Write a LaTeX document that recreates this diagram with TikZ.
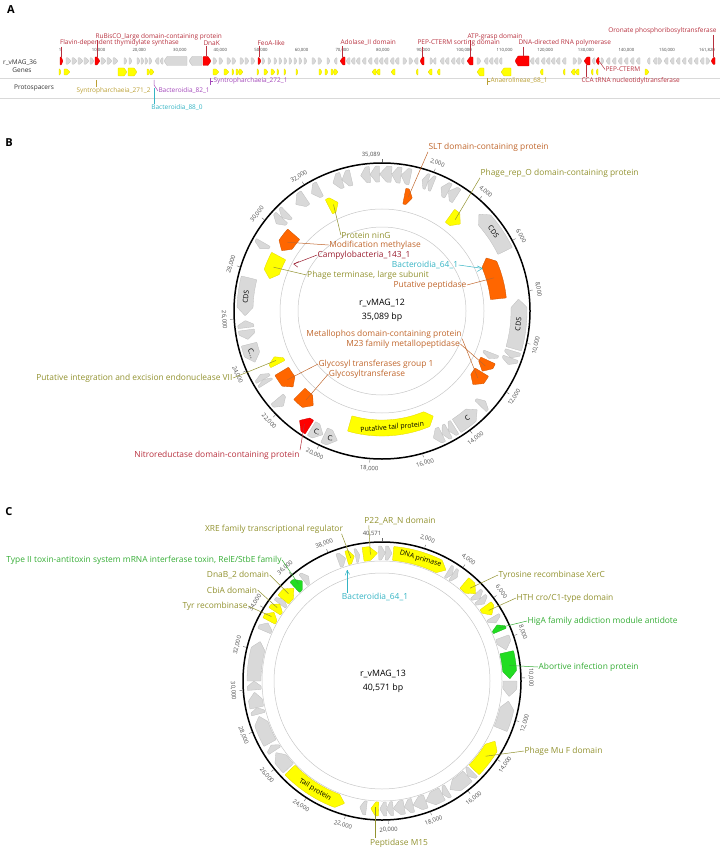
\documentclass[tikz,border=0pt]{standalone}
\usepackage{fontspec}
\setmainfont{Open Sans}
\usetikzlibrary{positioning}

\definecolor{gfill}{HTML}{D9D9D9}
\definecolor{gline}{HTML}{BDBDBD}
\definecolor{yfill}{HTML}{FFFF00}
\definecolor{yline}{HTML}{E3D400}
\definecolor{ofill}{HTML}{FF6600}
\definecolor{rfill}{HTML}{FF0000}
\definecolor{gnfill}{HTML}{22DD22}
\definecolor{cred}{HTML}{B7303E}
\definecolor{cdred}{HTML}{9A1E30}
\definecolor{cbrown}{HTML}{C0662C}
\definecolor{colive}{HTML}{929230}
\definecolor{cgold}{HTML}{BBA035}
\definecolor{cteal}{HTML}{35B4C4}
\definecolor{cgreen}{HTML}{35AD35}
\definecolor{cpurple}{HTML}{A348BA}

\tikzset{
  ggene/.style={fill=gfill, draw=gline, line width=0.3pt, rounded corners=0.5pt},
  ygene/.style={fill=yfill, draw=yline, line width=0.3pt, rounded corners=0.5pt},
  ogene/.style={fill=ofill, draw=ofill!80!black, line width=0.3pt, rounded corners=0.5pt},
  rgene/.style={fill=rfill, draw=rfill!80!black, line width=0.3pt, rounded corners=0.5pt},
  gngene/.style={fill=gnfill, draw=gnfill!80!black, line width=0.3pt, rounded corners=0.5pt},
  panel/.style={font=\fontsize{11}{12}\selectfont\bfseries, inner sep=0},
  lbl/.style={font=\fontsize{8.4}{9}\selectfont, inner sep=0.4pt},
  albl/.style={font=\fontsize{6.5}{7}\selectfont, inner sep=0.3pt},
  scl/.style={font=\fontsize{4.3}{5}\selectfont, text=black!70, inner sep=0},
  tklbl/.style={font=\fontsize{5.9}{6}\selectfont, text=black!70, inner sep=0},
  glbl/.style={font=\fontsize{7}{7}\selectfont, inner sep=0},
  ctr/.style={font=\fontsize{8.8}{9}\selectfont, inner sep=0.3pt},
  lead/.style={line width=0.5pt},
  sepline/.style={draw=black!15, line width=0.5pt},
  ring/.style={draw=black!22, line width=0.5pt},
}

% linear gene: from #1 to #2 (tip), centre line #3, height #4
\newcommand{\lgene}[5]{%
  \pgfmathsetmacro{\lgL}{min(3,0.6*abs((#2)-(#1)))}%
  \pgfmathsetmacro{\lgH}{(#2)-\lgL*sign((#2)-(#1))}%
  \draw[#5] (#1,#3-#4/2) -- (\lgH,#3-#4/2) -- (#2,#3) -- (\lgH,#3+#4/2) -- (#1,#3+#4/2) -- cycle;}

% circular gene: clockwise degrees from the top, from #1 to #2 (tip), radii #3..#4
\newcommand{\cgene}[5]{%
  \pgfmathsetmacro{\cgA}{90-(#1)}%
  \pgfmathsetmacro{\cgB}{90-(#2)}%
  \pgfmathsetmacro{\cgL}{min(3.5,0.6*abs((#2)-(#1)))}%
  \pgfmathsetmacro{\cgH}{\cgB+\cgL*sign(\cgA-\cgB)}%
  \pgfmathsetmacro{\cgM}{((#3)+(#4))/2}%
  \draw[#5] (\cgA:#3) arc[start angle=\cgA, end angle=\cgH, radius=#3] -- (\cgB:\cgM)
    -- (\cgH:#4) arc[start angle=\cgH, end angle=\cgA, radius=#4] -- cycle;}

% text on a gene, kept readable
\newcommand{\cglabel}[5]{%
  \pgfmathsetmacro{\cgT}{((#2)+(#3))/2}%
  \pgfmathsetmacro{\cgR}{ifthenelse(and(\cgT>90,\cgT<270),180-\cgT,-\cgT)}%
  \node[glbl, rotate=\cgR] (#1) at ({90-\cgT}:#4) {#5};}

\begin{document}
\begin{tikzpicture}[x=1pt, y=-1pt]
\useasboundingbox (0,0) rectangle (720,850);

%%%%% A
\node[panel] (pA) at (11,10) {A};
\draw[sepline] (0,78) -- (720,78);
\draw[sepline] (0,98) -- (720,98);
\node[albl, text=black!80] (nMag) at (20,62.5) {r\_vMAG\_36};
\node[albl, text=black!80] (nGen) at (22,70) {Genes};
\node[albl, text=black!80] (nPro) at (34,88) {Protospacers};

\node[scl] (s0) at (60,50) {1};
\foreach \k in {1,...,15}
  \node[scl] (s\k) at ({58+40.6*\k},50) {\k0,000};
\node[scl] (s16) at (707,50) {161,820};

\foreach \a/\b in {66/71,72/77,78/83,84/89,90/94,101/106,107/112,113/118,124/127,129/132,137/140,141/144,145/148,149/152,
  159/155,163/160,213/217,219/223,227/231,232/236,240/244,245/249,251/255,262/265,268/271,274/277,279/282,284/287,289/292,
  294/297,299/302,304/307,312/316,318/322,327/330,337/334,350/346,355/351,360/356,366/362,372/368,378/374,383/379,388/384,
  394/390,399/395,403/407,409/413,418/414,430/433,436/433,444/440,449/445,455/451,460/456,464/461,477/481,488/484,493/489,
  498/494,502/499,534/530,539/535,545/541,550/546,555/551,560/556,566/562,573/577,578/582,595/592,601/604,610/606,616/612,
  622/618,628/624,634/630,640/636,650/647,657/653,658/662,668/664,674/670,680/676,686/682,692/688,698/694,704/700,706/710}
  \lgene{\a}{\b}{61}{6.5}{ggene};
\lgene{187}{164}{61}{9}{ggene}
\lgene{202}{189}{61}{9}{ggene}

\foreach \a/\b in {59/61,64/70,147/150,150/154,213/219,224/229,232/234,236/239,239/243,257/259,264/268,271/275,277/279,
  284/286,296/298,319/322,325/328,331/334,334/338,376/372,380/376,395/391,418/416,432/428,440/437,543/540,565/563,575/571,
  579/575,593/591,598/596,645/649}
  \lgene{\a}{\b}{72}{6}{ygene};
\foreach \a/\b in {118/127,128/137,484/477,511/501}
  \lgene{\a}{\b}{72}{8}{ygene};

\foreach \a/\b/\h in {60/63/8,95/100/8,203/211/9,258/261/7,345/340/8,424/420/8,473/467/8,529/515/10,590/584/8,599/596/7,715/711/7}
  \lgene{\a}{\b}{61}{\h}{rgene};

\coordinate (aFla) at (61.5,57);
\coordinate (aRub) at (97.5,57);
\coordinate (aDna) at (206,56.5);
\coordinate (aFeo) at (259.5,57.5);
\coordinate (aAdo) at (342.5,57);
\coordinate (aPes) at (422,57);
\coordinate (aAtp) at (470,57);
\coordinate (aRna) at (523,56);
\coordinate (aOro) at (713,57.5);
\coordinate (aPep) at (599,61);
\coordinate (aCca) at (586,65);

\node[albl, text=cred, anchor=west] (lFla) at (59.5,43) {Flavin-dependent thymidylate synthase};
\node[albl, text=cred, anchor=west] (lRub) at (95,36.5) {RuBisCO\_large domain-containing protein};
\node[albl, text=cred, anchor=west] (lDna) at (203,43) {DnaK};
\node[albl, text=cred, anchor=west] (lFeo) at (257,43) {FeoA-like};
\node[albl, text=cred, anchor=west] (lAdo) at (340,43) {Adolase\_II domain};
\node[albl, text=cred, anchor=west] (lPes) at (417,43) {PEP-CTERM sorting domain};
\node[albl, text=cred, anchor=west] (lAtp) at (467,36.5) {ATP-grasp domain};
\node[albl, text=cred, anchor=west] (lRna) at (518,43) {DNA-directed RNA polymerase};
\node[albl, text=cred, anchor=east] (lOro) at (717,31) {Oronate phosphoribosyltransferase};
\node[albl, text=cred, anchor=west] (lPep) at (605,69.5) {PEP-CTERM};
\node[albl, text=cred, anchor=west] (lCca) at (581,81) {CCA tRNA nucleotidyltransferase};

\foreach \g/\l in {Fla/Fla,Rub/Rub,Dna/Dna,Feo/Feo,Ado/Ado,Pes/Pes,Atp/Atp,Rna/Rna,Oro/Oro}
  \draw[lead, cred] (l\l.south -| a\g) -- (a\g);
\draw[lead, cred] (aPep) -- (lPep.west);
\draw[lead, cred] (aCca) -- (lCca.north -| aCca);

% protospacers
\coordinate (pS2) at (96.5,80);
\coordinate (pB8) at (154,80);
\coordinate (pB0) at (154.5,88);
\coordinate (pS1) at (210,78);
\coordinate (pAn) at (487,78);
\node[albl, text=cgold, anchor=west] (lS2) at (76,91) {Syntropharchaeia\_271\_2};
\node[albl, text=cpurple, anchor=west] (lB8) at (158,91) {Bacteroidia\_82\_1};
\node[albl, text=cteal] (lB0) at (177,107.5) {Bacteroidia\_88\_0};
\node[albl, text=cpurple, anchor=west] (lS1) at (213,81) {Syntropharchaeia\_272\_1};
\node[albl, text=cgold, anchor=west] (lAn) at (490,81) {Anaerolineae\_68\_1};
\draw[lead, cgold] (pS2) -- (pS2 |- lS2.north);
\draw[lead, cpurple] (pB8) -- ++(0,5) -- (lB8.west);
\draw[lead, cteal] (pB0) -- (pB0 |- lB0.north);
\draw[lead, cpurple] (pS1) -- ++(0,7) (pS1) ++(0,3) -- (lS1.west);
\draw[lead, cgold] (pAn) -- ++(0,7) (pAn) ++(0,3) -- (lAn.west);

%%%%% B
\node[panel] (pB) at (9,143) {B};
\begin{scope}[shift={(382,311)}, y=1pt]
  \draw[ring] (0,0) circle[radius=102];
  \draw[ring] (0,0) circle[radius=84];
  % outer track
  \foreach \a/\b in {12/8,8/4,4/-1,-1/-5,-5/-9,-13/-17,-17/-21,22/19.5,19.5/17,33/29,29/25.5,107/110,110/113,134/131,
    148/151,151/154,154/158,230/226,238/240,240/242.5,262/258,263/266,300/297,316/313,313/309.5,326/321,333/329}
    \cgene{\a}{\b}{129}{145}{ggene};
  \foreach \a/\b in {64/45,106/85,147/136,205/199,211/205.5,256/248,284/268}
    \cgene{\a}{\b}{129}{145}{ggene};
  \cgene{212}{217}{129}{145}{rgene}
  % inner track
  \cgene{111}{114}{109}{125}{ggene}
  \foreach \a/\b in {11/15,84/63,115/121,121.5/129,225/216,239/229.5,311/301}
    \cgene{\a}{\b}{109}{125}{ogene};
  \foreach \a/\b in {35.5/42,196/154,243/247,298/286,333/338}
    \cgene{\a}{\b}{109}{125}{ygene};
  \cglabel{bc1}{64}{45}{137}{CDS}
  \cglabel{bc2}{106}{85}{137}{CDS}
  \cglabel{bc3}{147}{136}{137}{C}
  \cglabel{bc4}{205}{199}{137}{C.}
  \cglabel{bc5}{211}{205.5}{137}{C.}
  \cglabel{bc6}{256}{248}{137}{C...}
  \cglabel{bc7}{284}{268}{137}{CDS}
  \cglabel{bc8}{196}{154}{117}{Putative tail protein}
  \draw[line width=1.5pt] (0,0) circle[radius=148];
  \foreach \p in {2,4,...,32} {
    \pgfmathsetmacro{\tkA}{\p*360/35.089}
    \pgfmathsetmacro{\tkR}{ifthenelse(and(\tkA>90,\tkA<270),180-\tkA,-\tkA)}
    \draw[black!60, line width=0.4pt] ({90-\tkA}:149) -- ({90-\tkA}:152);
    \node[tklbl, rotate=\tkR] (tb\p) at ({90-\tkA}:158) {\p,000};
  }
  \draw[black!60, line width=0.4pt] (90:149) -- (90:152);
  \node[tklbl] (tb0) at (-11,156.5) {35,089};
  \coordinate (gSLT) at (77:117);
  \coordinate (gRep) at (51.3:117);
  \coordinate (gPep) at (16.5:117);
  \coordinate (gM23) at (-28:117);
  \coordinate (gMph) at (-35:117);
  \coordinate (gGly) at (-130.5:117);
  \coordinate (gGl1) at (-144:117);
  \coordinate (gInt) at (-155:117);
  \coordinate (gNit) at (-124.5:137);
  \coordinate (gTer) at (-202:117);
  \coordinate (gMet) at (-216:117);
  \coordinate (gNin) at (-245.5:117);
  \coordinate (mCam) at (-208:100);
  \coordinate (mBac) at (23:109);
\end{scope}

\node[lbl, text=cbrown, anchor=west] (lSLT) at (428,147) {SLT domain-containing protein};
\node[lbl, text=colive, anchor=west] (lRep) at (480,173) {Phage\_rep\_O domain-containing protein};
\node[lbl, text=colive] (lNin) at (366,235) {Protein ninG};
\node[lbl, text=cbrown] (lMet) at (375,245) {Modification methylase};
\node[lbl, text=cdred] (lCam) at (364,255) {Campylobacteria\_143\_1};
\node[lbl, text=cteal] (lBac) at (425,265) {Bacteroidia\_64\_1};
\node[lbl, text=colive] (lTer) at (368,275) {Phage terminase, large subunit};
\node[lbl, text=cbrown] (lPep) at (430,285) {Putative peptidase};
\node[ctr] (lName) at (382,303) {r\_vMAG\_12};
\node[ctr] (lLen) at (382,317) {35,089 bp};
\node[lbl, text=cbrown] (lMph) at (384,334) {Metallophos domain-containing protein};
\node[lbl, text=cbrown] (lM23) at (403,344) {M23 family metallopeptidase};
\node[lbl, text=cbrown] (lGl1) at (376,364) {Glycosyl transferases group 1};
\node[lbl, text=cbrown] (lGly) at (367,374) {Glycosyltransferase};
\node[lbl, text=colive, anchor=east] (lInt) at (233,378) {Putative integration and excision endonuclease VII};
\node[lbl, text=cred, anchor=east] (lNit) at (300,455) {Nitroreductase domain-containing protein};

\draw[lead, cbrown] (gSLT) -- (lSLT.south west);
\draw[lead, colive] (gRep) -- (lRep.south west);
\draw[lead, colive] (gNin) -- (lNin.west);
\draw[lead, cbrown] (gMet) -- (lMet.west);
\draw[lead, cdred] (mCam) -- (lCam.west);
\draw[lead, cdred] (mCam) -- ++(5,-2.5) (mCam) -- ++(4,3);
\draw[lead, colive] (gTer) -- (lTer.west);
\draw[lead, cteal] (lBac.east) -- (mBac);
\draw[lead, cteal] (mBac) -- ++(-5,-2.5) (mBac) -- ++(-5,3);
\draw[lead, cbrown] (lPep.east) -- (gPep);
\draw[lead, cbrown] (lMph.south east) -- (gMph);
\draw[lead, cbrown] (lM23.east) -- (gM23);
\draw[lead, cbrown] (lGl1.west) -- (gGl1);
\draw[lead, cbrown] (lGly.west) -- (gGly);
\draw[lead, colive] (lInt.east) -- (gInt);
\draw[lead, cred] (lNit.north east) -- (gNit);

%%%%% C
\node[panel] (pC) at (9,512) {C};
\begin{scope}[shift={(382,681)}, y=1pt]
  \draw[ring] (0,0) circle[radius=120];
  \draw[ring] (0,0) circle[radius=108];
  \foreach \a/\b in {-20/-16.5,-12/-10,-1.5/1.5,1.5/4.5,31/33.5,33.5/36,47/50,50/53,60/63,70/76,90/97,112/99,135/138,
    138/148,149/152,152/160,160/166,166/170,170/175,175/178,178/181,187/190,227/236,237/240,241/254,255/258,258/265,
    266/270,270/288,293/297,307/310,322/325}
    \cgene{\a}{\b}{121}{135}{ggene};
  \foreach \a/\b in {-16/-12.5,-8.5/-2,5/30,40/47,54/59,134/118,181.5/185,226/197,298/302.5,303/307,309.5/316.5}
    \cgene{\a}{\b}{121}{135}{ygene};
  \foreach \a/\b in {67/64,77/89,317/321.5}
    \cgene{\a}{\b}{121}{135}{gngene};
  \cglabel{cc1}{5}{30}{128}{DNA primase}
  \cglabel{cc2}{226}{197}{128}{Tail protein}
  \draw[line width=1.5pt] (0,0) circle[radius=139];
  \foreach \p in {2,4,...,38} {
    \pgfmathsetmacro{\tkA}{\p*360/40.571}
    \pgfmathsetmacro{\tkR}{ifthenelse(and(\tkA>90,\tkA<270),180-\tkA,-\tkA)}
    \draw[black!60, line width=0.4pt] ({90-\tkA}:140) -- ({90-\tkA}:143);
    \node[tklbl, rotate=\tkR] (tc\p) at ({90-\tkA}:149) {\p,000};
  }
  \draw[black!60, line width=0.4pt] (90:140) -- (90:143);
  \node[tklbl] (tc0) at (-10,147.5) {40,571};
  \coordinate (cXre) at (104.25:127);
  \coordinate (cP22) at (95.25:127);
  \coordinate (cTox) at (-229.25:128);
  \coordinate (cDnb) at (-223:128);
  \coordinate (cCbi) at (-215:128);
  \coordinate (cTyr) at (-210.25:128);
  \coordinate (cXer) at (46.5:128);
  \coordinate (cHth) at (33.5:128);
  \coordinate (cHig) at (24.5:128);
  \coordinate (cAbi) at (7:128);
  \coordinate (cMuF) at (-36:128);
  \coordinate (cM15) at (-93.25:126);
  \coordinate (nBac) at (107.5:116);
\end{scope}

\node[lbl, text=colive] (kXre) at (274,529) {XRE family transcriptional regulator};
\node[lbl, text=colive] (kP22) at (400,521) {P22\_AR\_N domain};
\node[lbl, text=cgreen] (kTox) at (144,560) {Type II toxin-antitoxin system mRNA interferase toxin, RelE/StbE family};
\node[lbl, text=colive] (kDnb) at (238,575) {DnaB\_2 domain};
\node[lbl, text=colive] (kCbi) at (232,590) {CbiA domain};
\node[lbl, text=colive] (kTyr) at (215,606) {Tyr recombinase};
\node[lbl, text=cteal] (kBac) at (375,597) {Bacteroidia\_64\_1};
\node[lbl, text=colive, anchor=west] (kXer) at (498,575) {Tyrosine recombinase XerC};
\node[lbl, text=colive, anchor=west] (kHth) at (516,598) {HTH cro/C1-type domain};
\node[lbl, text=cgreen, anchor=west] (kHig) at (527,621) {HigA family addiction module antidote};
\node[lbl, text=cgreen, anchor=west] (kAbi) at (538,667) {Abortive infection protein};
\node[lbl, text=colive, anchor=west] (kMuF) at (524,751) {Phage Mu F domain};
\node[lbl, text=colive] (kM15) at (399,843) {Peptidase M15};
\node[ctr] (kName) at (383,674) {r\_vMAG\_13};
\node[ctr] (kLen) at (383,688) {40,571 bp};

\draw[lead, colive] ([xshift=-2pt]kXre.south east) -- (cXre);
\draw[lead, colive] ([xshift=5pt]kP22.south west) -- (cP22);
\draw[lead, cgreen] (kTox.east) -- (cTox);
\draw[lead, colive] (kDnb.east) -- (cDnb);
\draw[lead, colive] (kCbi.east) -- (cCbi);
\draw[lead, colive] (kTyr.east) -- (cTyr);
\draw[lead, cteal] (nBac |- kBac.north) -- (nBac);
\draw[lead, cteal] (nBac) -- ++(-2,5) (nBac) -- ++(2.5,4);
\draw[lead, colive] (kXer.west) -- (cXer);
\draw[lead, colive] (kHth.west) -- (cHth);
\draw[lead, cgreen] (kHig.west) -- (cHig);
\draw[lead, cgreen] (kAbi.west) -- (cAbi);
\draw[lead, colive] (kMuF.west) -- (cMuF);
\draw[lead, colive] (cM15 |- kM15.north) -- (cM15);
\end{tikzpicture}
\end{document}
